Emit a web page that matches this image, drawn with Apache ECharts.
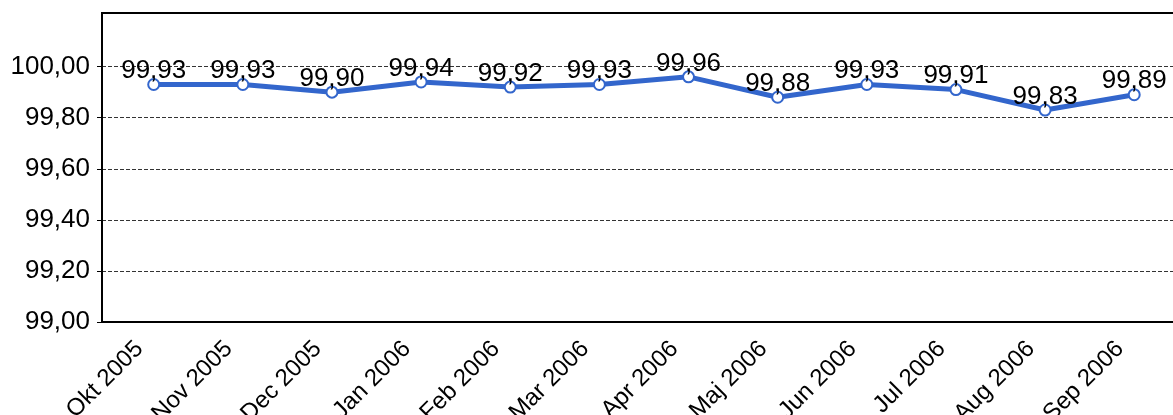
<!DOCTYPE html>
<html>
<head>
<meta charset="utf-8">
<script src="https://cdn.jsdelivr.net/npm/echarts@6/dist/echarts.min.js"></script>
<style>
  html, body { margin: 0; padding: 0; background: #fff; }
  #chart { width: 1173px; height: 415px; }
</style>
</head>
<body>
<div id="chart"></div>
<script>
// ── data ──────────────────────────────────────
const months = ['Okt 2005', 'Nov 2005', 'Dec 2005', 'Jan 2006', 'Feb 2006', 'Mar 2006',
  'Apr 2006', 'Maj 2006', 'Jun 2006', 'Jul 2006', 'Aug 2006', 'Sep 2006']
const availability = [99.93, 99.93, 99.90, 99.94, 99.92, 99.93, 99.96, 99.88, 99.93, 99.91, 99.83, 99.89]
const yTicks = [99.0, 99.2, 99.4, 99.6, 99.8, 100.0]

const font = '"Liberation Sans", Arial, sans-serif'
const comma = v => v.toFixed(2).replace('.', ',')

const chart = echarts.init(document.getElementById('chart'))

chart.setOption({
  animation: false,
  grid: {
    left: 102, right: -4, top: 13, bottom: 93,
    outerBoundsMode: 'none',
    show: true, borderColor: '#000', borderWidth: 2, backgroundColor: 'transparent'
  },
  xAxis: {
    type: 'value',
    min: -0.58,
    max: 11.48,
    splitLine: { show: false },
    axisLine: { show: true, onZero: false, lineStyle: { color: '#000', width: 2 } },
    axisTick: { show: false },
    axisLabel: {
      customValues: months.map((m, i) => i),
      formatter: v => months[v],
      rotate: 45,
      margin: 9,
      padding: [0, 20, 0, 0],
      color: '#000',
      fontSize: 24,
      fontFamily: font
    }
  },
  yAxis: {
    type: 'value',
    min: yTicks[0],
    max: 100.21,
    interval: 0.2,
    axisLine: { show: true, onZero: false, lineStyle: { color: '#000', width: 2 } },
    axisTick: { show: true, length: 5, customValues: yTicks, lineStyle: { color: '#000', width: 1 } },
    axisLabel: {
      customValues: yTicks,
      formatter: v => comma(v),
      margin: 12,
      color: '#000',
      fontSize: 26,
      fontFamily: font
    },
    splitLine: { show: true, lineStyle: { color: '#333', width: 1, type: [4, 2] } }
  },
  series: [{
    type: 'line',
    data: availability.map((v, i) => [i, v]),
    symbol: 'emptyCircle',
    symbolSize: 11,
    itemStyle: { color: '#3366cc', borderWidth: 3 },
    lineStyle: { color: '#3366cc', width: 5 },
    label: {
      show: true,
      position: 'top',
      distance: -6,
      formatter: p => comma(p.value[1]),
      color: '#000',
      fontSize: 26,
      fontFamily: font
    }
  }]
})
</script>
</body>
</html>
